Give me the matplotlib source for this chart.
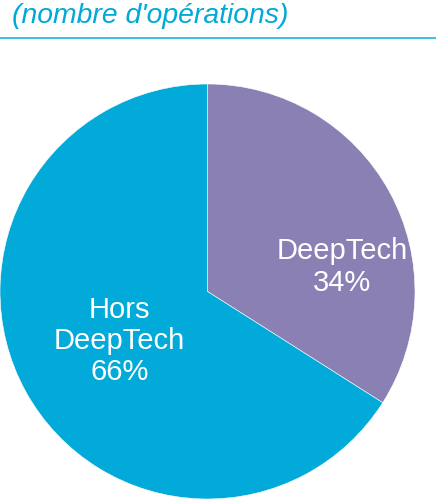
import matplotlib
matplotlib.use("Agg")
import matplotlib.pyplot as plt

categories = ["DeepTech", "Hors\nDeepTech"]
values = [34, 66]
colors = ["#8A80B4", "#02AADA"]
title = "(nombre d'opérations)"

W, H = 436, 504
fig = plt.figure(figsize=(W / 100, H / 100), dpi=100)
plt.rcParams['font.family'] = ['Liberation Sans', 'DejaVu Sans']

# pie axes: centre (207.5, 291.5) px, radius 207.5 px
cx, cy, r = 207.5, 291.5, 207.5
ax = fig.add_axes([(cx - r) / W, (H - cy - r) / H, 2 * r / W, 2 * r / H])
wedges, _ = ax.pie(values, colors=colors, startangle=90, counterclock=False,
                   radius=1.0, wedgeprops=dict(edgecolor="white", linewidth=0.4))
ax.set_xlim(-1, 1)
ax.set_ylim(-1, 1)
ax.set_aspect("equal")
ax.axis("off")

label_pos = [((342.5 - cx) / r, (cy - 267) / r), ((119.5 - cx) / r, (cy - 341) / r)]
for cat, v, (x, y) in zip(categories, values, label_pos):
    ax.text(x, y, f"{cat}\n{v}%", ha="center", va="center", color="white",
            fontsize=21, linespacing=1.15)

fig.text(12 / W, 1 - 22.7 / H, title, ha="left", va="baseline", fontsize=20.4,
         style="italic", color="#00A9D8")
fig.add_artist(plt.Line2D([0, 1], [1 - 38.3 / H] * 2, color="#1AB2DE", linewidth=1.2,
                          transform=fig.transFigure))

fig.savefig("out.png", dpi=100)
